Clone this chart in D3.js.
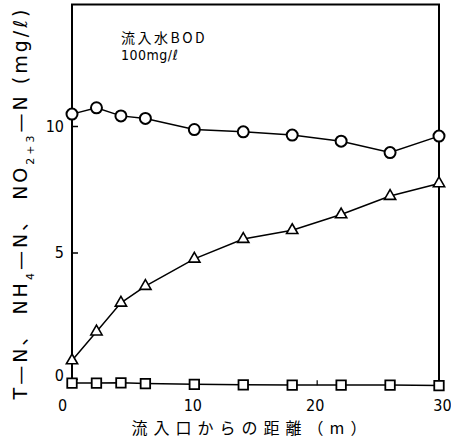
<!DOCTYPE html>
<html>
<head>
<meta charset="utf-8">
<script src="https://cdn.jsdelivr.net/npm/d3@7"></script>
<style>
  body { margin: 0; background: #fff; }
  svg text { fill: #000; }
</style>
</head>
<body>
<div id="chart"></div>
<script>
// distance from inlet (m)
const distance = [0, 2, 4, 6, 10, 14, 18, 22, 26, 30];
// T-N (circles), NH4-N (triangles), NO2+3-N (squares), mg/l
const totalN = [10.47, 10.72, 10.40, 10.30, 9.86, 9.77, 9.64, 9.40, 8.95, 9.60];
const nh4N = [0.73, 1.87, 3.01, 3.67, 4.75, 5.53, 5.88, 6.50, 7.23, 7.73];
const no23N = [-0.16, -0.16, -0.15, -0.18, -0.21, -0.23, -0.24, -0.24, -0.24, -0.26];
const xTicks = [0, 10, 20, 30];
const yTicks = [0, 5, 10];

const WIDTH = 451, HEIGHT = 442;
const numFont = '"DejaVu Sans Condensed", "Liberation Sans Narrow", "DejaVu Sans", sans-serif';
const jpFont = '"Noto Sans CJK JP", sans-serif';

const svg = d3.select("#chart").append("svg")
  .attr("width", WIDTH)
  .attr("height", HEIGHT);

const x = d3.scaleLinear().domain([0, 30]).range([72, 439]);
const y = d3.scaleLinear().domain([0, 10]).range([379, 126]);
const yTop = 14.8;
const yBottom = -0.25;

// frame (open at the bottom, the NO2+3 line runs along it)
svg.append("path")
  .attr("d", d3.line()([[x(0), y(yBottom)], [x(0), y(yTop)], [x(30), y(yTop)], [x(30), y(yBottom)]]))
  .attr("fill", "none")
  .attr("stroke", "#000")
  .attr("stroke-width", 2);

// y axis
const yAxis = svg.append("g")
  .attr("transform", "translate(" + x(0) + ",0)")
  .call(d3.axisLeft(y).tickValues(yTicks).tickSize(-6).tickPadding(8).tickFormat(d3.format("d")));
yAxis.select(".domain").remove();
yAxis.selectAll(".tick line").attr("stroke-width", 1.5);
yAxis.selectAll(".tick text")
  .attr("font-family", numFont)
  .attr("font-size", 16)
  .attr("dy", d => (d === 0 ? "0.1em" : "0.32em"));

// x axis
const xAxis = svg.append("g")
  .attr("transform", "translate(0," + y(yBottom) + ")")
  .call(d3.axisBottom(x).tickValues(xTicks).tickSize(-5).tickPadding(14).tickFormat(d3.format("d")));
xAxis.select(".domain").remove();
xAxis.selectAll(".tick line").attr("stroke-width", 1.2)
  .attr("opacity", d => (d === 20 ? 1 : 0));
xAxis.selectAll(".tick text")
  .attr("font-family", numFont)
  .attr("font-size", 16)
  .attr("dx", d => (d === 0 ? -10 : d === 30 ? 3 : -2));

// series lines
const line = d3.line().x(d => x(d[0])).y(d => y(d[1]));
[totalN, nh4N, no23N].forEach(vals => {
  svg.append("path")
    .datum(d3.zip(distance, vals))
    .attr("d", line)
    .attr("fill", "none")
    .attr("stroke", "#000")
    .attr("stroke-width", 1.5);
});

// markers
svg.selectAll("circle.tn")
  .data(d3.zip(distance, totalN))
  .enter().append("circle")
  .attr("class", "tn")
  .attr("cx", d => x(d[0]))
  .attr("cy", d => y(d[1]))
  .attr("r", 5.5)
  .attr("fill", "#fff")
  .attr("stroke", "#000")
  .attr("stroke-width", 2);

svg.selectAll("path.nh4")
  .data(d3.zip(distance, nh4N))
  .enter().append("path")
  .attr("class", "nh4")
  .attr("d", d3.symbol().type(d3.symbolTriangle).size(55))
  .attr("transform", d => "translate(" + x(d[0]) + "," + y(d[1]) + ")")
  .attr("fill", "#fff")
  .attr("stroke", "#000")
  .attr("stroke-width", 1.6);

svg.selectAll("path.no23")
  .data(d3.zip(distance, no23N))
  .enter().append("path")
  .attr("class", "no23")
  .attr("d", d3.symbol().type(d3.symbolSquare).size(90))
  .attr("transform", d => "translate(" + x(d[0]) + "," + y(d[1]) + ")")
  .attr("fill", "#fff")
  .attr("stroke", "#000")
  .attr("stroke-width", 1.8);

// annotation
svg.append("text")
  .attr("x", 121).attr("y", 43)
  .attr("font-family", jpFont)
  .attr("font-size", 14)
  .attr("letter-spacing", 2.5)
  .text("流入水BOD");
svg.append("text")
  .attr("x", 121).attr("y", 60)
  .attr("font-family", numFont)
  .attr("font-size", 14)
  .attr("letter-spacing", 0.5)
  .text("100mg/ℓ");

// x label
svg.append("text")
  .attr("x", 252).attr("y", 434)
  .attr("text-anchor", "middle")
  .attr("font-family", jpFont)
  .attr("font-size", 16)
  .attr("letter-spacing", 6)
  .text("流入口からの距離（m）");

// y label
const yl = svg.append("text")
  .attr("transform", "translate(27,203) rotate(-90)")
  .attr("text-anchor", "middle")
  .attr("font-family", '"DejaVu Sans", ' + jpFont)
  .attr("font-size", 19)
  .attr("letter-spacing", 3);
yl.append("tspan").text("T—N、 NH");
yl.append("tspan").attr("font-size", 11).attr("baseline-shift", "sub").text("4");
yl.append("tspan").text("—N、 NO");
yl.append("tspan").attr("font-size", 11).attr("baseline-shift", "sub").text("2+3");
yl.append("tspan").text("—N (mg/ℓ)");
</script>
</body>
</html>
